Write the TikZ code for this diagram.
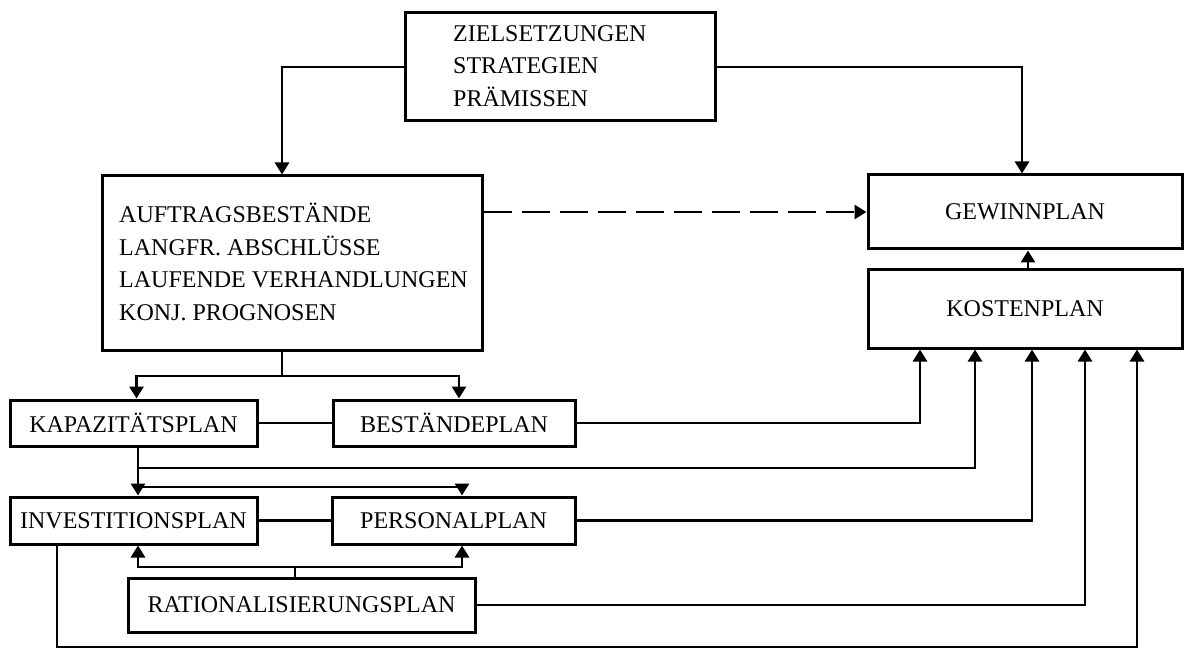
\documentclass[tikz,border=0pt]{standalone}
\usepackage{fontspec}
\setmainfont{Liberation Serif}
\usetikzlibrary{arrows.meta,calc}
\begin{document}
\begin{tikzpicture}[x=1pt,y=-1pt,
  box/.style={draw, line width=3pt, inner sep=0pt, font=\fontsize{24}{32.5}\selectfont},
  txt/.style={inner sep=0pt, align=left, font=\fontsize{24}{32.5}\selectfont},
  conn/.style={line width=2.8pt},
  arr/.style={conn, -{Triangle[length=12pt,width=14pt]}},
  darr/.style={arr, dash pattern=on 28pt off 10pt}]
\useasboundingbox[fill=white] (0,0) rectangle (1191,652);
% boxes
\node[box, minimum width=310pt, minimum height=108pt] (ziel) at (560,67) {};
\node[txt, anchor=west] (zieltext) at (453,66) {ZIELSETZUNGEN\\STRATEGIEN\\PRÄMISSEN};
\node[box, minimum width=380pt, minimum height=174pt] (auf) at (292,263) {};
\node[txt, anchor=west] (auftext) at (119,262) {AUFTRAGSBESTÄNDE\\LANGFR. ABSCHLÜSSE\\LAUFENDE VERHANDLUNGEN\\KONJ. PROGNOSEN};
\node[box, minimum width=314pt, minimum height=74pt] (gew) at (1025,212) {GEWINNPLAN};
\node[box, minimum width=314pt, minimum height=78pt] (kost) at (1025,309) {KOSTENPLAN};
\node[box, minimum width=247pt, minimum height=46pt] (kap) at (133.5,423) {KAPAZITÄTSPLAN};
\node[box, minimum width=242pt, minimum height=46pt] (best) at (454,423) {BESTÄNDEPLAN};
\node[box, minimum width=247pt, minimum height=47pt] (inv) at (133.5,520.5) {INVESTITIONSPLAN};
\node[box, minimum width=243pt, minimum height=47pt] (pers) at (453.5,520.5) {PERSONALPLAN};
\node[box, minimum width=347pt, minimum height=54pt] (rat) at (301.5,605) {RATIONALISIERUNGSPLAN};
% connectors
\draw[arr] (ziel.west) -| ([xshift=-10pt]auf.north);
\draw[arr] (ziel.east) -| ([xshift=-3pt]gew.north);
\draw[darr] (auf.east |- gew.west) -- (gew.west);
\draw[arr] ([xshift=3pt]kost.north) -- ([xshift=3pt]gew.south);
\coordinate (j1) at (282,376);
\draw[conn] ([xshift=-10pt]auf.south) -- (j1);
\draw[arr] (j1) -| ([xshift=3pt]kap.north);
\draw[arr] (j1) -| ([xshift=5pt]best.north);
\draw[conn] (kap.east) -- (best.west);
\draw[conn] (inv.east) -- (pers.west);
\draw[arr] (best.east) -| ([xshift=-105pt]kost.south);
\draw[arr] ([xshift=4.5pt]kap.south) -- ([xshift=4.5pt]inv.north);
\coordinate (b1) at (138,468);
\coordinate (b2) at (138,487);
\draw[arr] (b1) -| ([xshift=-50pt]kost.south);
\draw[arr] (b2) -| ([xshift=8.5pt]pers.north);
\draw[arr] (pers.east) -| ([xshift=7pt]kost.south);
\coordinate (j2) at (295,567);
\draw[conn] ([xshift=-6.5pt]rat.north) -- (j2);
\draw[arr] (j2) -| ([xshift=4.5pt]inv.south);
\draw[arr] (j2) -| ([xshift=8.5pt]pers.south);
\draw[arr] (rat.east) -| ([xshift=60pt]kost.south);
\coordinate (bot) at (57,647);
\draw[arr] ([xshift=-76.5pt]inv.south) -- (bot) -| ([xshift=112pt]kost.south);
\end{tikzpicture}
\end{document}
